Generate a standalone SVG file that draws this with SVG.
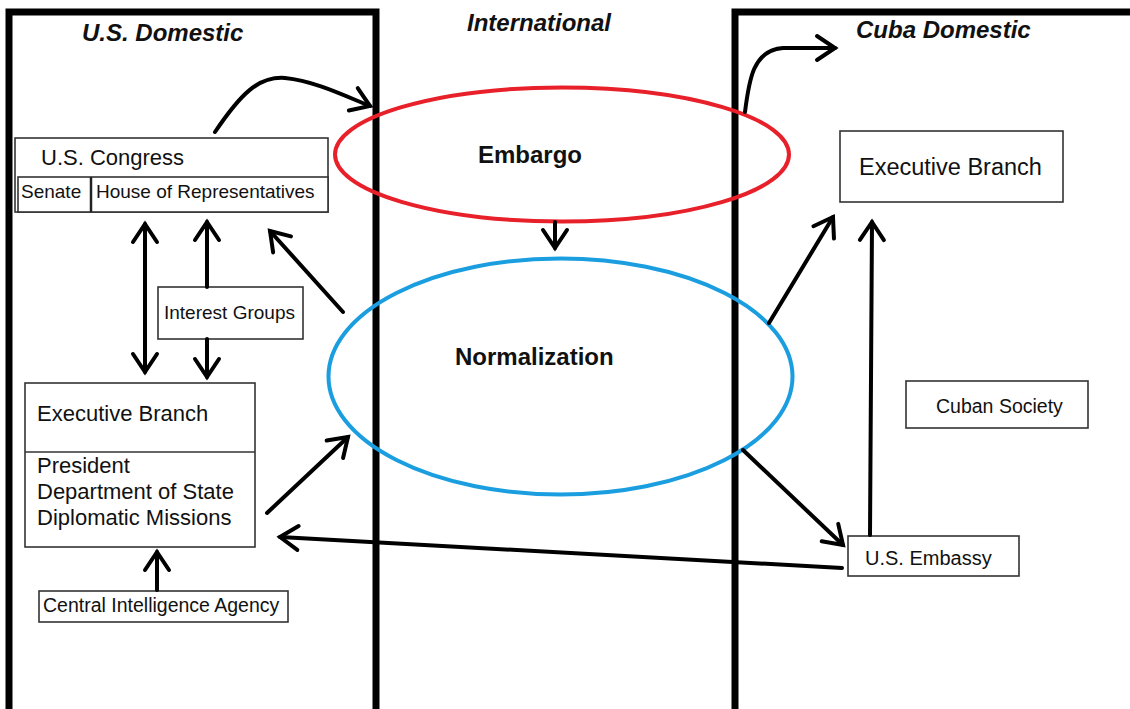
<svg xmlns="http://www.w3.org/2000/svg" width="1130" height="709" viewBox="0 0 1130 709">
<style>
.frame{fill:none;stroke:#000;stroke-width:7}
.box{fill:#fff;stroke:#333;stroke-width:1.6}
.t{font-family:"Liberation Sans",Arial,sans-serif;fill:#111}
.title{font-family:"Liberation Sans",Arial,sans-serif;font-weight:bold;font-style:italic;font-size:24px;fill:#111}
.bold{font-family:"Liberation Sans",Arial,sans-serif;font-weight:bold;font-size:24px;fill:#111}
.arr{fill:none;stroke:#000;stroke-width:4;stroke-linecap:round;marker-end:url(#ah)}
</style>
<defs>
<marker id="ah" viewBox="0 0 30 30" refX="26" refY="15" markerWidth="30" markerHeight="30" markerUnits="userSpaceOnUse" orient="auto-start-reverse">
<path d="M8,3 L26,15 L8,27" fill="none" stroke="#000" stroke-width="4" stroke-linecap="round" stroke-linejoin="miter"/>
</marker>
</defs>
<rect width="1130" height="709" fill="#fff"/>
<g id="frames">
<path class="frame" d="M9,712 L9,12 L376,12 L376,712"/>
<path class="frame" d="M735,712 L735,12 L1134,12"/>
</g>
<g id="titles">
<text class="title" x="82" y="41">U.S. Domestic</text>
<text class="title" x="467" y="31">International</text>
<text class="title" x="856" y="38">Cuba Domestic</text>
</g>
<g id="embargo">
<ellipse cx="562" cy="154.5" rx="227" ry="67" fill="none" stroke="#e8202a" stroke-width="4"/>
<text class="bold" x="478" y="163">Embargo</text>
</g>
<g id="normalization">
<ellipse cx="560.5" cy="376.5" rx="232" ry="118" fill="none" stroke="#1a9ee0" stroke-width="4"/>
<text class="bold" x="455" y="365">Normalization</text>
</g>
<g id="us-congress">
<rect class="box" x="15" y="138" width="313" height="74"/>
<rect class="box" x="18" y="177" width="310" height="35"/>
<line x1="91" y1="177" x2="91" y2="212" stroke="#222" stroke-width="2.5"/>
<text class="t" x="41" y="165" font-size="22">U.S. Congress</text>
<text class="t" x="21" y="198" font-size="19">Senate</text>
<text class="t" x="96" y="198" font-size="19">House of Representatives</text>
</g>
<g id="interest-groups">
<rect class="box" x="158" y="287" width="145" height="52"/>
<text class="t" x="164" y="319" font-size="19">Interest Groups</text>
</g>
<g id="us-executive">
<rect class="box" x="25" y="383" width="230" height="164"/>
<line x1="25" y1="452" x2="255" y2="452" stroke="#333" stroke-width="1.6"/>
<text class="t" x="37" y="421" font-size="22">Executive Branch</text>
<text class="t" x="37" y="473" font-size="22">President</text>
<text class="t" x="37" y="499" font-size="22">Department of State</text>
<text class="t" x="37" y="525" font-size="22">Diplomatic Missions</text>
</g>
<g id="cia">
<rect class="box" x="39" y="591" width="249" height="31"/>
<text class="t" x="43" y="612" font-size="19.5">Central Intelligence Agency</text>
</g>
<g id="cuba-executive">
<rect class="box" x="840" y="131" width="223" height="71"/>
<text class="t" x="859" y="175" font-size="23.5">Executive Branch</text>
</g>
<g id="cuban-society">
<rect class="box" x="906" y="381" width="182" height="47"/>
<text class="t" x="936" y="413" font-size="19.5">Cuban Society</text>
</g>
<g id="us-embassy">
<rect class="box" x="848" y="536" width="171" height="40"/>
<text class="t" x="865" y="565" font-size="20">U.S. Embassy</text>
</g>
<g id="connectors">
<path class="arr" d="M215,132 C240,95 258,76 285,78 C315,81 345,96 370,106"/>
<path class="arr" d="M555,222 L555,248"/>
<path class="arr" d="M145,224 L145,372" style="marker-start:url(#ah)"/>
<path class="arr" d="M207,287 L207,222"/>
<path class="arr" d="M207,339 L207,377"/>
<path class="arr" d="M343,312 L270,231"/>
<path class="arr" d="M267,513 L348,437"/>
<path class="arr" d="M157,590 L157,552"/>
<path class="arr" d="M842,568 L280,537"/>
<path class="arr" d="M769,323 L833,217"/>
<path class="arr" d="M870,535 L872,222"/>
<path class="arr" d="M743,450 L843,545"/>
<path class="arr" d="M745,112 C749,80 753,50 783,48 L835,48"/>
</g>
</svg>
